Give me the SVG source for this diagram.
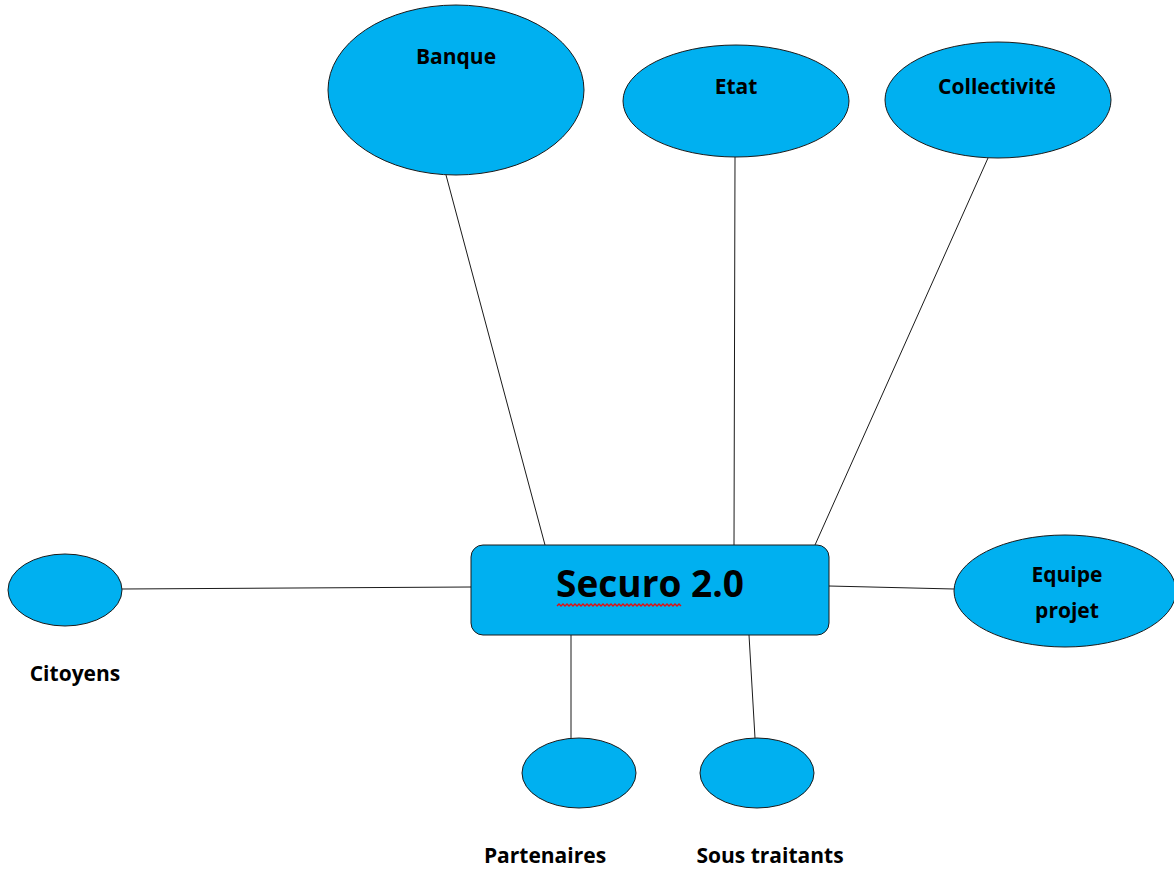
<svg xmlns="http://www.w3.org/2000/svg" width="1174" height="869" viewBox="0 0 1174 869">
  <style>
    .node { fill: #00B0F0; stroke: #1a1a1a; stroke-width: 1; }
    .link { stroke: #1a1a1a; stroke-width: 1; fill: none; }
    .lbl { font-family: "Open Sans", "Liberation Sans", Arial, sans-serif; font-weight: bold; font-size: 21px; fill: #000; text-anchor: middle; }
    .title { font-family: "Open Sans", "Liberation Sans", Arial, sans-serif; font-weight: bold; font-size: 37px; fill: #000; text-anchor: middle; }
  </style>
  <rect width="1174" height="869" fill="#ffffff"/>

  <!-- connectors -->
  <g id="connectors">
    <line class="link" x1="446" y1="175" x2="545" y2="545"/>
    <line class="link" x1="735" y1="157" x2="734" y2="545"/>
    <line class="link" x1="988" y1="158" x2="815" y2="545"/>
    <line class="link" x1="122" y1="589" x2="471" y2="587"/>
    <line class="link" x1="829" y1="586" x2="954" y2="589"/>
    <line class="link" x1="571" y1="635" x2="571" y2="738"/>
    <line class="link" x1="749" y1="635" x2="755" y2="738"/>
  </g>

  <g id="banque">
    <ellipse class="node" cx="456" cy="90" rx="128" ry="85"/>
    <text class="lbl" x="456" y="64">Banque</text>
  </g>

  <g id="etat">
    <ellipse class="node" cx="736" cy="101" rx="113" ry="56"/>
    <text class="lbl" x="736" y="94">Etat</text>
  </g>

  <g id="collectivite">
    <ellipse class="node" cx="998" cy="100" rx="113" ry="58"/>
    <text class="lbl" x="997" y="94">Collectivité</text>
  </g>

  <g id="securo">
    <rect class="node" x="471" y="545" width="358" height="90" rx="12" ry="12"/>
    <text class="title" x="650" y="597">Securo 2.0</text>
    <!-- spell-check squiggle under "Securo" -->
    <path d="M557 606 l2 -2 l2 2 l2 -2 l2 2 l2 -2 l2 2 l2 -2 l2 2 l2 -2 l2 2 l2 -2 l2 2 l2 -2 l2 2 l2 -2 l2 2 l2 -2 l2 2 l2 -2 l2 2 l2 -2 l2 2 l2 -2 l2 2 l2 -2 l2 2 l2 -2 l2 2 l2 -2 l2 2 l2 -2 l2 2 l2 -2 l2 2 l2 -2 l2 2 l2 -2 l2 2 l2 -2 l2 2 l2 -2 l2 2 l2 -2 l2 2 l2 -2 l2 2 l2 -2 l2 2 l2 -2 l2 2 l2 -2 l2 2 l2 -2 l2 2 l2 -2 l2 2 l2 -2 l2 2 l2 -2 l2 2 l2 -2 l2 2" fill="none" stroke="#e01010" stroke-width="1.4"/>
  </g>

  <g id="citoyens">
    <ellipse class="node" cx="65" cy="590" rx="57" ry="36"/>
    <text class="lbl" x="75" y="681">Citoyens</text>
  </g>

  <g id="equipe-projet">
    <ellipse class="node" cx="1065" cy="591" rx="111" ry="56"/>
    <text class="lbl" x="1067" y="582">Equipe</text>
    <text class="lbl" x="1067" y="618">projet</text>
  </g>

  <g id="partenaires">
    <ellipse class="node" cx="579" cy="773" rx="57" ry="35"/>
    <text class="lbl" x="545" y="863">Partenaires</text>
  </g>

  <g id="sous-traitants">
    <ellipse class="node" cx="757" cy="773" rx="57" ry="35"/>
    <text class="lbl" x="770" y="863">Sous traitants</text>
  </g>
</svg>
